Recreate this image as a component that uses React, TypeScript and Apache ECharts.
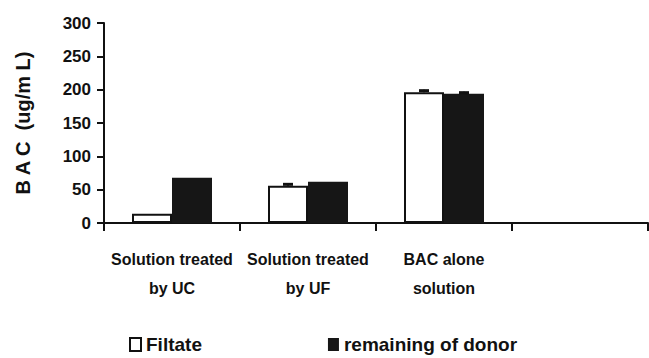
import React, { useEffect, useRef } from "react";
import * as echarts from "echarts";

// Groups on the category axis (the fourth slot is left empty)
const categories = ["Solution treated\nby UC", "Solution treated\nby UF", "BAC alone\nsolution", ""];

// BAC concentration (ug/mL)
const filtrateValues: (number | null)[] = [14, 56, 196, null];
const donorValues: (number | null)[] = [68, 62, 194, null];

// Upper error bar extents (ug/mL)
const filtrateErrors: (number | null)[] = [null, 3.5, 4, null];
const donorErrors: (number | null)[] = [null, null, 3, null];

const yTicks = { min: 0, max: 300, interval: 50 };

const INK = "#111111";
const BAR_W = 40;
const FONT = "'Liberation Sans', Arial, sans-serif";

function errorSeries(values: (number | null)[], errs: (number | null)[], offset: number) {
  const data = values
    .map((v, i) => (v != null && errs[i] != null ? [i, v, v + (errs[i] as number)] : null))
    .filter((d) => d !== null);
  return {
    type: "custom",
    silent: true,
    z: 5,
    data,
    renderItem: (_params: any, api: any) => {
      const idx = api.value(0);
      const low = api.coord([idx, api.value(1)]);
      const high = api.coord([idx, api.value(2)]);
      const x = low[0] + offset;
      return {
        type: "group",
        children: [
          {
            type: "line",
            shape: { x1: x, y1: low[1], x2: x, y2: high[1] },
            style: { stroke: INK, lineWidth: 2 },
          },
          {
            type: "line",
            shape: { x1: x - 5, y1: high[1] + 1, x2: x + 5, y2: high[1] + 1 },
            style: { stroke: INK, lineWidth: 3 },
          },
        ],
      };
    },
  };
}

export default function App() {
  const ref = useRef<HTMLDivElement>(null);

  useEffect(() => {
    if (!ref.current) return;
    const chart = echarts.init(ref.current, null, { renderer: "svg" });
    chart.setOption({
      animation: false,
      backgroundColor: "#ffffff",
      grid: { left: 104, right: 1, top: 23, bottom: 135 },
      legend: {
        left: 124,
        top: 330,
        icon: "rect",
        itemWidth: 11,
        itemHeight: 13,
        itemGap: 126,
        textStyle: { fontFamily: FONT, fontWeight: "bold", fontSize: 19, color: INK },
        data: ["Filtate", "remaining of donor"],
      },
      xAxis: {
        type: "category",
        data: categories,
        boundaryGap: true,
        axisLine: { lineStyle: { color: INK, width: 2 } },
        axisTick: { show: true, length: 8, lineStyle: { color: INK, width: 2 } },
        axisLabel: {
          interval: 0,
          margin: 22,
          fontFamily: FONT,
          fontWeight: "bold",
          fontSize: 16,
          lineHeight: 29,
          color: INK,
        },
      },
      yAxis: {
        type: "value",
        min: yTicks.min,
        max: yTicks.max,
        interval: yTicks.interval,
        name: "B A C  (ug/m L)",
        nameLocation: "middle",
        nameRotate: 90,
        nameGap: 71,
        nameTextStyle: { fontFamily: FONT, fontWeight: "bold", fontSize: 20, color: INK },
        axisLine: { show: true, lineStyle: { color: INK, width: 2 } },
        axisTick: { show: true, length: 7, lineStyle: { color: INK, width: 2 } },
        splitLine: { show: false },
        axisLabel: {
          margin: 13,
          fontFamily: FONT,
          fontWeight: "bold",
          fontSize: 17,
          color: INK,
        },
      },
      series: [
        {
          name: "Filtate",
          type: "bar",
          data: filtrateValues,
          barWidth: BAR_W,
          barGap: "0%",
          itemStyle: { color: "#ffffff", borderColor: INK, borderWidth: 2 },
        },
        {
          name: "remaining of donor",
          type: "bar",
          data: donorValues,
          barWidth: BAR_W,
          barGap: "0%",
          itemStyle: { color: "#161616", borderColor: "#161616", borderWidth: 0 },
        },
        errorSeries(filtrateValues, filtrateErrors, -BAR_W / 2),
        errorSeries(donorValues, donorErrors, BAR_W / 2),
      ],
    });
    return () => chart.dispose();
  }, []);

  return (
    <div
      ref={ref}
      style={{ position: "fixed", left: 0, top: 0, width: 649, height: 358, background: "#fff" }}
    />
  );
}
